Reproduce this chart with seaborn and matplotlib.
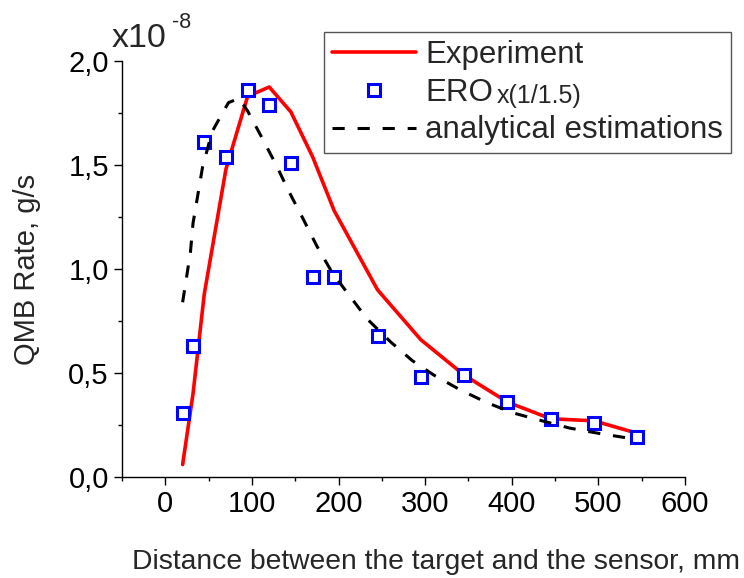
# QMB rate vs distance: experiment, ERO and analytical estimations.
import seaborn as sns
import matplotlib.pyplot as plt
from matplotlib.ticker import MultipleLocator, FuncFormatter

# data (y values in units of 1e-8 g/s)
exp_x = [20, 32, 45, 70, 95, 120, 145, 170, 195, 245, 295, 345, 395, 445, 495, 545]
exp_y = [0.06, 0.40, 0.88, 1.48, 1.83, 1.875, 1.755, 1.54, 1.28, 0.90, 0.66, 0.49, 0.36, 0.28, 0.27, 0.21]

ero_x = [20, 32, 45, 70, 95, 120, 145, 170, 195, 245, 295, 345, 395, 445, 495, 545]
ero_y = [0.31, 0.63, 1.61, 1.54, 1.86, 1.79, 1.51, 0.96, 0.96, 0.68, 0.48, 0.49, 0.36, 0.28, 0.26, 0.19]

ana_x = [20, 29, 32, 43, 54, 66, 73, 85, 95, 113, 128, 143, 158, 175, 193, 213, 233,
         260, 285, 310, 340, 370, 400, 435, 467, 500, 545]
ana_y = [0.84, 1.08, 1.22, 1.49, 1.66, 1.75, 1.80, 1.82, 1.76, 1.62, 1.50, 1.37, 1.25, 1.11,
         0.98, 0.87, 0.76, 0.65, 0.56, 0.49, 0.42, 0.36, 0.31, 0.27, 0.235, 0.21, 0.18]

sns.set_style('ticks')
plt.rcParams['font.family'] = ['Liberation Sans', 'DejaVu Sans']

fig = plt.figure(figsize=(7.44, 5.78), dpi=100)
ax = fig.add_axes([122/744, 1 - 477/578, (685 - 122)/744, (477 - 61)/578])

sns.lineplot(x=exp_x, y=exp_y, ax=ax, color='#ff0000', lw=2.6, label='Experiment', sort=False)
sns.lineplot(x=ero_x, y=ero_y, ax=ax, color='#0000ff', lw=0, marker='s', ms=9,
             mfc='white', mec='#0000ff', mew=2.2, label='ERO', sort=False)
sns.lineplot(x=ana_x, y=ana_y, ax=ax, color='black', lw=2.2, dashes=(4, 4.2),
             label='analytical estimations', sort=False)

ax.set_xlim(-50, 600)
ax.set_ylim(0, 2.0)
ax.xaxis.set_major_locator(MultipleLocator(100))
ax.xaxis.set_minor_locator(MultipleLocator(50))
ax.yaxis.set_major_locator(MultipleLocator(0.5))
ax.yaxis.set_minor_locator(MultipleLocator(0.25))
ax.yaxis.set_major_formatter(FuncFormatter(lambda v, p: f'{v:.1f}'.replace('.', ',')))
ax.tick_params(which='major', length=6, width=1, labelsize=21, color='black', labelcolor='black')
ax.tick_params(which='minor', length=3, width=1, color='black')
for s in ['top', 'right']:
    ax.spines[s].set_visible(False)
for s in ['left', 'bottom']:
    ax.spines[s].set_color('black')
    ax.spines[s].set_linewidth(1.0)

ax.set_xlabel('Distance between the target and the sensor, mm', fontsize=20.3, labelpad=22)
ax.xaxis.label.set_x((436 - 122)/563)
ax.set_ylabel('QMB Rate, g/s', fontsize=21, labelpad=20)

# axis multiplier
fig.text(112/744, 1 - 47/578, 'x10', fontsize=24.5)
fig.text(172/744, 1 - 28/578, '-8', fontsize=15.5)

leg = ax.legend(loc='upper right', bbox_to_anchor=(731/744, 1 - 32/578),
                bbox_transform=fig.transFigure, borderaxespad=0, fontsize=22.5,
                fancybox=False, edgecolor='#555555', framealpha=1,
                handlelength=2.7, handletextpad=0.3, labelspacing=0.25,
                borderpad=0.25)
leg.get_frame().set_linewidth(1.0)

# smaller multiplier next to the ERO label
fig.canvas.draw()
bb = leg.get_texts()[1].get_window_extent()
fig.text((bb.x1 + 4)/744, bb.y0/578, 'x(1/1.5)', fontsize=18, va='bottom')

fig.savefig('out.png', dpi=100)
